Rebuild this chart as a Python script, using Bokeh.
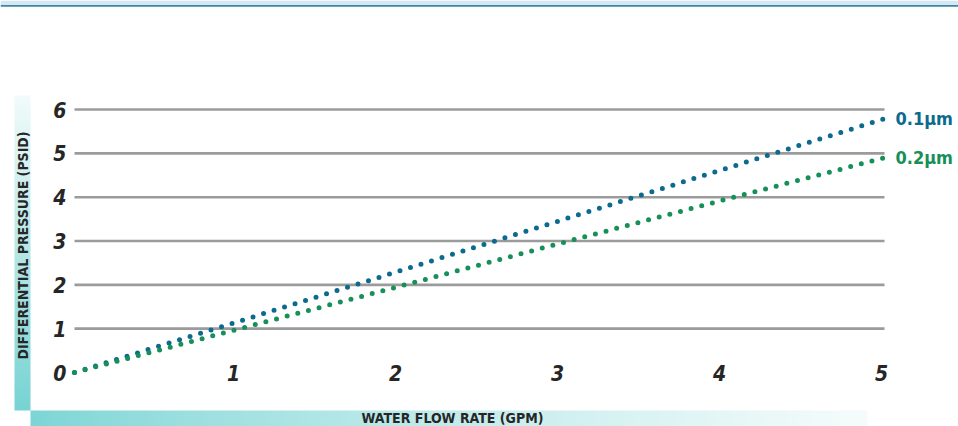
import numpy as np
from bokeh.plotting import figure
from bokeh.models import Range1d
from bokeh.core.properties import value
from bokeh.embed import file_html
from bokeh.resources import INLINE

# ---- data ----
flow = [0, 1, 2, 3, 4, 5]
dp_01 = [0, 1.15, 2.31, 3.47, 4.63, 5.79]
dp_02 = [0, 0.98, 1.96, 2.95, 3.93, 4.90]
series_names = ["0.1µm", "0.2µm"]
y_ticks = [0, 1, 2, 3, 4, 5, 6]
x_ticks = [1, 2, 3, 4, 5]
x_title = "WATER FLOW RATE (GPM)"
y_title = "DIFFERENTIAL PRESSURE (PSID)"

# ---- styles / geometry ----
BLUE = "#0b6a8e"
GREEN = "#178f58"
GRID = "#9b9b9b"
TXT = "#262626"
FONT = "Liberation Sans Narrow, DejaVu Sans Condensed, sans-serif"

W, H = 958, 426
PX_X, X0 = 162.0, 74.0      # px per unit, canvas x of value 0
PX_Y, Y0 = 43.83, 54.0      # px per unit, px from bottom of value 0


def dx(fx):
    return (fx - X0) / PX_X


def dy(fy_top):
    return (H - fy_top - Y0) / PX_Y


p = figure(width=W, height=H, output_backend="svg", toolbar_location=None,
           x_range=Range1d(dx(0), dx(W)), y_range=Range1d(dy(H), dy(0)),
           x_axis_location=None, y_axis_location=None, min_border=0)
p.outline_line_color = None
p.grid.visible = False
p.background_fill_color = "white"
p.border_fill_color = "white"


def grad(n, c0, c1, gamma=1.0):
    t = np.linspace(0, 1, n) ** gamma
    c0 = np.array(c0, float)
    c1 = np.array(c1, float)
    cols = (c0[None, :] * (1 - t[:, None]) + c1[None, :] * t[:, None]).astype(np.uint8)
    rgba = np.concatenate([cols, np.full((n, 1), 255, np.uint8)], axis=1)
    return rgba.view(np.uint32).reshape(n)


# top band
p.quad(left=dx(0), right=dx(W), top=dy(0), bottom=dy(4.4), fill_color="#d5e8f1", line_color=None)
p.quad(left=dx(0), right=dx(W), top=dy(4.4), bottom=dy(6.2), fill_color="#3a87a6", line_color=None)

# left vertical gradient bar (bottom teal -> top white)
lb = grad(200, (120, 211, 211), (242, 251, 251)).reshape(200, 1)
p.image_rgba(image=[lb], x=dx(14), y=dy(410), dw=16 / PX_X, dh=(410 - 95) / PX_Y)
# bottom horizontal gradient bar (left teal -> right white)
bb = grad(300, (124, 213, 213), (246, 252, 252), 0.8).reshape(1, 300)
p.image_rgba(image=[bb], x=dx(30), y=dy(H), dw=(867 - 30) / PX_X, dh=(H - 410) / PX_Y)

# grid lines
p.segment(x0=[flow[0]] * (len(y_ticks) - 1), y0=y_ticks[1:],
          x1=[flow[-1]] * (len(y_ticks) - 1), y1=y_ticks[1:],
          line_color=GRID, line_width=2.6)

# series (dotted)
p.line(flow, dp_01, line_color=BLUE, line_width=5, line_dash="0 11", line_cap="round")
p.line(flow, dp_02, line_color=GREEN, line_width=5, line_dash="0 11", line_cap="round")

# tick labels
p.text(x=[flow[0]] * len(y_ticks), y=y_ticks, text=[str(t) for t in y_ticks],
       text_font=value(FONT), text_font_style="bold italic", text_font_size="21px",
       text_color=TXT, text_align="right", text_baseline="middle", x_offset=-8)
p.text(x=x_ticks, y=[0] * len(x_ticks), text=[str(t) for t in x_ticks],
       text_font=value(FONT), text_font_style="bold italic", text_font_size="21px",
       text_color=TXT, text_align="center", text_baseline="middle", x_offset=-3)

# series labels
p.text(x=[flow[-1]] * 2, y=[dp_01[-1], dp_02[-1]], text=series_names,
       text_color=[BLUE, GREEN], text_font=value(FONT), text_font_style="bold",
       text_font_size="18px", text_align="left", text_baseline="middle", x_offset=11)

# axis titles
p.text(x=[dx(22)], y=[dy(245)], text=[y_title], angle=np.pi / 2,
       text_font=value(FONT), text_font_style="bold", text_font_size="14px",
       text_color=TXT, text_align="center", text_baseline="middle")
p.text(x=[dx(452)], y=[dy(417)], text=[x_title],
       text_font=value(FONT), text_font_style="bold", text_font_size="14px",
       text_color=TXT, text_align="center", text_baseline="middle")

open("out.html", "w").write(file_html(p, INLINE))
